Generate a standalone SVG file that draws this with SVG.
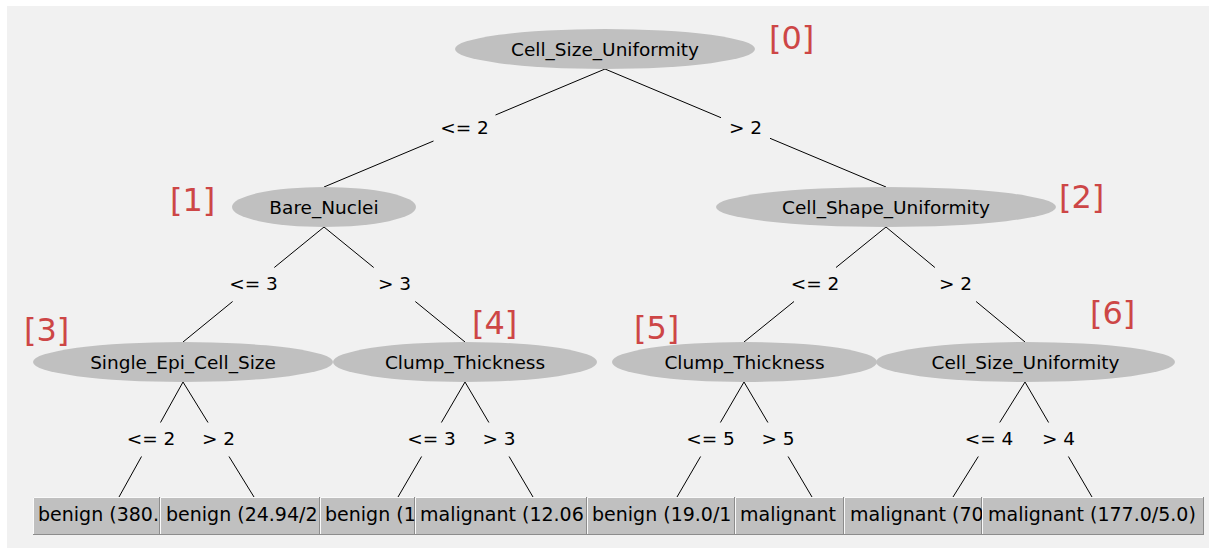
<svg xmlns="http://www.w3.org/2000/svg" width="1212" height="550" viewBox="0 0 1212 550">
  <style>
    .panel { fill: #f1f1f1; }
    .node ellipse { fill: #c0c0c0; }
    .leaf rect { fill: #c0c0c0; }
    .hi { stroke: #fafafa; stroke-width: 1; fill: none; }
    .lo { stroke: #8c8c8c; stroke-width: 1; fill: none; }
    .name { font-family: "DejaVu Sans", "Liberation Sans", sans-serif; font-size: 18.5px; fill: #000; text-anchor: middle; }
    .leaftext { font-family: "DejaVu Sans", "Liberation Sans", sans-serif; font-size: 19px; fill: #000; }
    .idx { font-family: "DejaVu Sans", "Liberation Sans", sans-serif; font-size: 32px; fill: #cd4646; }
    .edge { stroke: #000; stroke-width: 1; fill: none; }
    .cond { font-family: "DejaVu Sans", "Liberation Sans", sans-serif; font-size: 18.5px; fill: #000; text-anchor: middle; }
  </style>

  <rect class="panel" x="7" y="6" width="1202" height="542"/>

  <!-- connectors: each edge is split around its condition label -->
  <g id="connectors">
    <path class="edge" d="M605,69 L495.5,115 M433.5,141 L324,187"/>
    <path class="edge" d="M605,69 L721,117.7 M770,138.3 L886,187"/>
    <path class="edge" d="M324,227 L274.3,267.5 M232.6,301.5 L183,342"/>
    <path class="edge" d="M324,227 L373.7,267.5 M415.3,301.5 L465,342"/>
    <path class="edge" d="M886,227 L836,267.5 M794,301.5 L744,342"/>
    <path class="edge" d="M886,227 L934.9,267.5 M976.1,301.5 L1025,342"/>
    <path class="edge" d="M183,382 L160.5,422.5 M141.5,456.5 L119,497"/>
    <path class="edge" d="M183,382 L208,422.5 M229,456.5 L254,497"/>
    <path class="edge" d="M465,382 L441.4,422.5 M421.6,456.5 L398,497"/>
    <path class="edge" d="M465,382 L488.9,422.5 M509.1,456.5 L533,497"/>
    <path class="edge" d="M744,382 L720.4,422.5 M700.6,456.5 L677,497"/>
    <path class="edge" d="M744,382 L767.9,422.5 M788.1,456.5 L812,497"/>
    <path class="edge" d="M1025,382 L999.7,422.5 M978.3,456.5 L953,497"/>
    <path class="edge" d="M1025,382 L1048.6,422.5 M1068.4,456.5 L1092,497"/>
  </g>

  <g id="edge-labels">
    <text class="cond" x="464.5" y="133.5">&lt;= 2</text>
    <text class="cond" x="745.5" y="133.5">&gt; 2</text>
    <text class="cond" x="253.5" y="290">&lt;= 3</text>
    <text class="cond" x="394.5" y="290">&gt; 3</text>
    <text class="cond" x="815" y="290">&lt;= 2</text>
    <text class="cond" x="955.5" y="290">&gt; 2</text>
    <text class="cond" x="151" y="445">&lt;= 2</text>
    <text class="cond" x="218.5" y="445">&gt; 2</text>
    <text class="cond" x="431.5" y="445">&lt;= 3</text>
    <text class="cond" x="499" y="445">&gt; 3</text>
    <text class="cond" x="710.5" y="445">&lt;= 5</text>
    <text class="cond" x="778" y="445">&gt; 5</text>
    <text class="cond" x="989" y="445">&lt;= 4</text>
    <text class="cond" x="1058.5" y="445">&gt; 4</text>
  </g>

  <!-- decision nodes -->
  <g id="node0" class="node">
    <ellipse cx="605" cy="49" rx="150" ry="20"/>
    <text class="name" x="605" y="55.5">Cell_Size_Uniformity</text>
    <text class="idx" x="769" y="49">[0]</text>
  </g>
  <g id="node1" class="node">
    <ellipse cx="324" cy="207" rx="92" ry="20"/>
    <text class="name" x="324" y="213.5">Bare_Nuclei</text>
    <text class="idx" x="170" y="211">[1]</text>
  </g>
  <g id="node2" class="node">
    <ellipse cx="886" cy="207" rx="170" ry="20"/>
    <text class="name" x="886" y="213.5">Cell_Shape_Uniformity</text>
    <text class="idx" x="1059" y="208">[2]</text>
  </g>
  <g id="node3" class="node">
    <ellipse cx="183" cy="362" rx="150" ry="20"/>
    <text class="name" x="183" y="368.5">Single_Epi_Cell_Size</text>
    <text class="idx" x="24" y="341">[3]</text>
  </g>
  <g id="node4" class="node">
    <ellipse cx="465" cy="362" rx="132" ry="20"/>
    <text class="name" x="465" y="368.5">Clump_Thickness</text>
    <text class="idx" x="472" y="334">[4]</text>
  </g>
  <g id="node5" class="node">
    <ellipse cx="744.5" cy="362" rx="132.5" ry="20"/>
    <text class="name" x="744.5" y="368.5">Clump_Thickness</text>
    <text class="idx" x="634" y="339">[5]</text>
  </g>
  <g id="node6" class="node">
    <ellipse cx="1025.5" cy="362" rx="149.5" ry="20"/>
    <text class="name" x="1025.5" y="368.5">Cell_Size_Uniformity</text>
    <text class="idx" x="1090" y="324">[6]</text>
  </g>

  <!-- leaves, drawn left to right so each box covers the overflow of the previous one -->
  <g id="leaf1" class="leaf">
    <rect x="33" y="497" width="127" height="38"/>
    <path class="hi" d="M33.5,534 V497.5 H160"/>
    <path class="lo" d="M33,534.5 H160 M159.5,497 V535"/>
    <text class="leaftext" x="38" y="521">benign (380.</text>
  </g>
  <g id="leaf2" class="leaf">
    <rect x="160" y="497" width="160" height="38"/>
    <path class="hi" d="M160.5,534 V497.5 H320"/>
    <path class="lo" d="M160,534.5 H320 M319.5,497 V535"/>
    <text class="leaftext" x="166" y="521">benign (24.94/2</text>
  </g>
  <g id="leaf3" class="leaf">
    <rect x="320" y="497" width="95" height="38"/>
    <path class="hi" d="M320.5,534 V497.5 H415"/>
    <path class="lo" d="M320,534.5 H415 M414.5,497 V535"/>
    <text class="leaftext" x="325" y="521">benign (1</text>
  </g>
  <g id="leaf4" class="leaf">
    <rect x="415" y="497" width="172" height="38"/>
    <path class="hi" d="M415.5,534 V497.5 H587"/>
    <path class="lo" d="M415,534.5 H587 M586.5,497 V535"/>
    <text class="leaftext" x="420" y="521">malignant (12.06</text>
  </g>
  <g id="leaf5" class="leaf">
    <rect x="587" y="497" width="148" height="38"/>
    <path class="hi" d="M587.5,534 V497.5 H735"/>
    <path class="lo" d="M587,534.5 H735 M734.5,497 V535"/>
    <text class="leaftext" x="592" y="521">benign (19.0/1</text>
  </g>
  <g id="leaf6" class="leaf">
    <rect x="735" y="497" width="109" height="38"/>
    <path class="hi" d="M735.5,534 V497.5 H844"/>
    <path class="lo" d="M735,534.5 H844 M843.5,497 V535"/>
    <text class="leaftext" x="740" y="521">malignant</text>
  </g>
  <g id="leaf7" class="leaf">
    <rect x="844" y="497" width="138" height="38"/>
    <path class="hi" d="M844.5,534 V497.5 H982"/>
    <path class="lo" d="M844,534.5 H982 M981.5,497 V535"/>
    <text class="leaftext" x="850" y="521">malignant (70</text>
  </g>
  <g id="leaf8" class="leaf">
    <rect x="982" y="497" width="222" height="38"/>
    <path class="hi" d="M982.5,534 V497.5 H1204"/>
    <path class="lo" d="M982,534.5 H1204 M1203.5,497 V535"/>
    <text class="leaftext" x="988" y="521">malignant (177.0/5.0)</text>
  </g>
</svg>
